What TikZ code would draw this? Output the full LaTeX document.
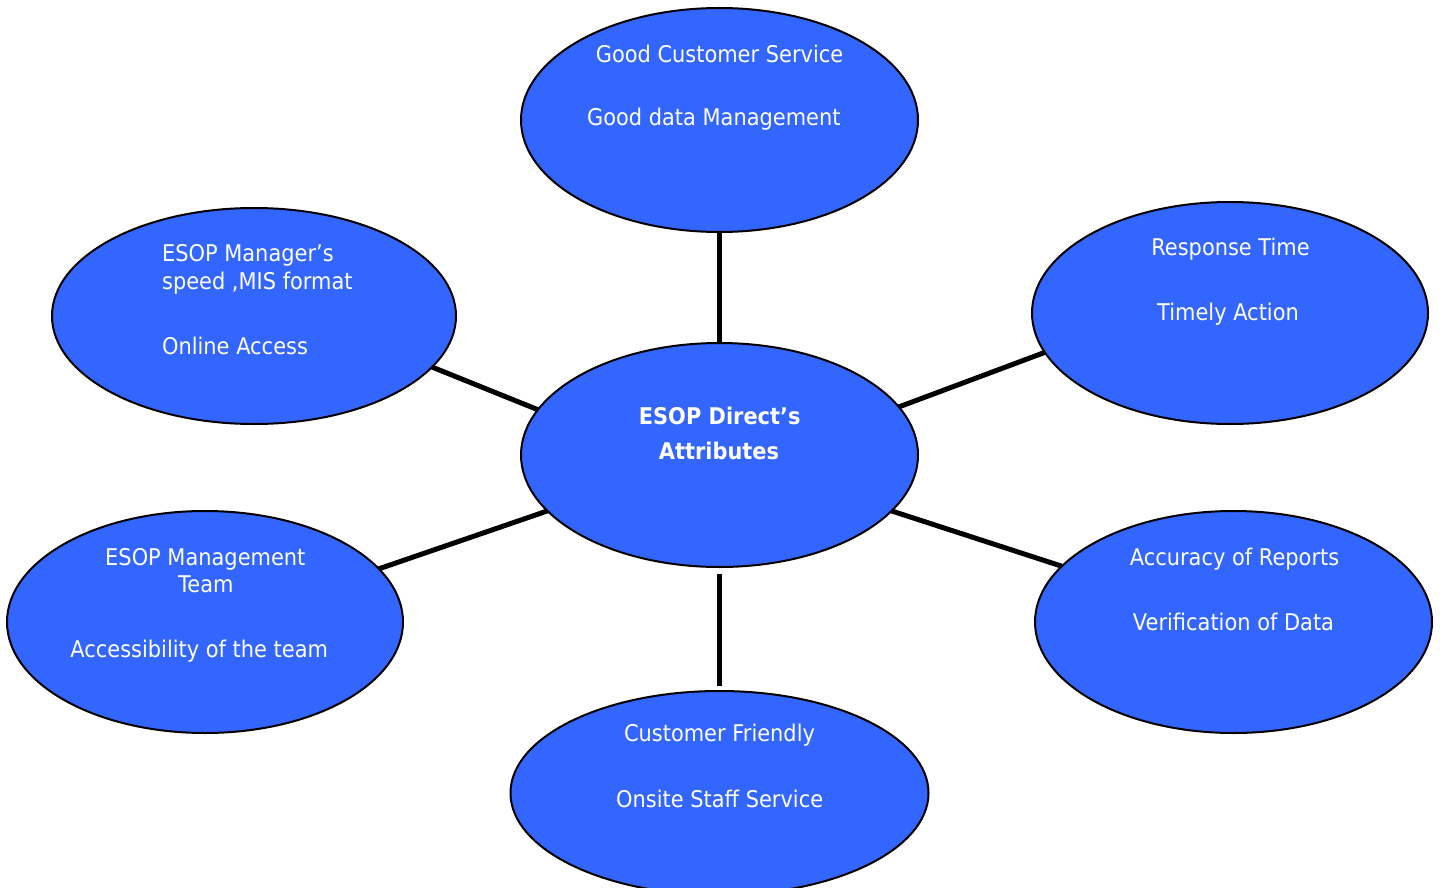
\documentclass[tikz,border=0pt]{standalone}
\usepackage{fontspec}
\setmainfont[FakeStretch=0.91]{DejaVu Sans}
\usetikzlibrary{shapes.geometric}
\definecolor{bubblefill}{RGB}{51,102,255}
\newcommand{\bubblefont}{\fontsize{11.5}{14}\selectfont}
\tikzset{
  bubble/.style={ellipse,draw=black,line width=1pt,fill=bubblefill,
    inner sep=0pt,outer sep=0pt},
  spoke/.style={line width=2.5pt},
  caption/.style={anchor=base,inner sep=0pt,text=white,font=\bubblefont},
}

\begin{document}
\begin{tikzpicture}[x=0.5pt,y=-0.5pt]
  \useasboundingbox (0,0) rectangle (1440,888);

  % bubbles
  \node[bubble,minimum width=198.5pt,minimum height=112pt] (svc) at (719.5,120) {};
  \node[bubble,minimum width=198.5pt,minimum height=112pt] (hub) at (719.5,455) {};
  \node[bubble,minimum width=198pt,minimum height=111pt] (resp) at (1230,313) {};
  \node[bubble,minimum width=202pt,minimum height=108pt] (mgr) at (254,316) {};
  \node[bubble,minimum width=198pt,minimum height=111pt] (team) at (205,622) {};
  \node[bubble,minimum width=198.5pt,minimum height=111pt] (acc) at (1233.5,622) {};
  \node[bubble,minimum width=209pt,minimum height=102pt] (cust) at (719.5,793) {};

  % spokes
  \draw[spoke] (hub.north) -- (svc.south);
  \draw[spoke,shorten <=3.5pt,shorten >=2.5pt] (hub.south) -- (cust.north);
  \draw[spoke] (hub.166.7) -- (mgr.-16.5);
  \draw[spoke] (hub.15.6) -- (resp.192.2);
  \draw[spoke] (hub.198.5) -- (team.17.6);
  \draw[spoke] (hub.-18.4) -- (acc.162.1);

  % texts
  \node[caption] (svcA) at (719.5,62.7) {Good Customer Service};
  \node[caption] (svcB) at (713.8,126) {Good data Management};
  \node[caption,font=\bubblefont\bfseries] (hubA) at (719.7,424.3) {ESOP Direct’s};
  \node[caption,font=\bubblefont\bfseries] (hubB) at (719,459) {Attributes};
  \node[caption] (respA) at (1230.5,255.7) {Response Time};
  \node[caption] (respB) at (1228,320.7) {Timely Action};
  \node[caption,anchor=base west] (mgrA) at (161.7,261.7) {ESOP Manager’s};
  \node[caption,anchor=base west] (mgrB) at (161.7,289.3) {speed ,MIS format};
  \node[caption,anchor=base west] (mgrC) at (161.7,354) {Online Access};
  \node[caption] (teamA) at (205.3,565.7) {ESOP Management};
  \node[caption] (teamB) at (205.8,592.7) {Team};
  \node[caption] (teamC) at (199.2,657.3) {Accessibility of the team};
  \node[caption] (accA) at (1234.5,565.7) {Accuracy of Reports};
  \node[caption] (accB) at (1233.5,630.7) {Verification of Data};
  \node[caption] (custA) at (719.5,741.7) {Customer Friendly};
  \node[caption] (custB) at (719.7,807.7) {Onsite Staff Service};
\end{tikzpicture}
\end{document}
